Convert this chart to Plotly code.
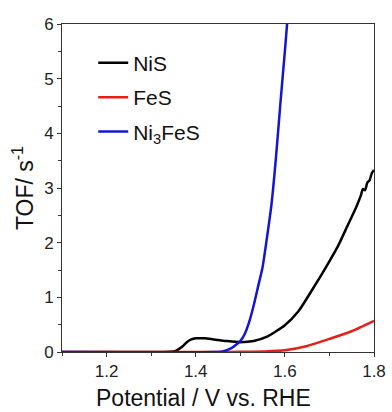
import plotly.graph_objects as go

# Potential (V vs. RHE) and turnover frequency (s^-1) for each catalyst
potential_nis = [1.10, 1.30, 1.34, 1.355, 1.37, 1.38, 1.39, 1.40, 1.42, 1.44, 1.47, 1.50,
                 1.53, 1.56, 1.60, 1.63, 1.66, 1.69, 1.72, 1.74, 1.76, 1.77, 1.775,
                 1.78, 1.785, 1.79, 1.795, 1.80]
tof_nis = [0.0, 0.0, 0.005, 0.02, 0.1, 0.18, 0.23, 0.25, 0.25, 0.23, 0.2, 0.18,
           0.2, 0.28, 0.49, 0.74, 1.12, 1.52, 1.95, 2.3, 2.65, 2.85, 2.98,
           2.96, 3.1, 3.14, 3.27, 3.33]

potential_fes = [1.10, 1.45, 1.50, 1.55, 1.60, 1.65, 1.70, 1.75, 1.80]
tof_fes = [0.0, 0.0, 0.003, 0.01, 0.03, 0.11, 0.24, 0.38, 0.57]

potential_ni3fes = [1.10, 1.44, 1.46, 1.48, 1.49, 1.50, 1.51, 1.52, 1.53, 1.54,
                    1.55, 1.56, 1.57, 1.58, 1.59, 1.60, 1.61]
tof_ni3fes = [0.0, 0.0, 0.01, 0.07, 0.13, 0.2, 0.33, 0.55, 0.85, 1.2,
              1.55, 2.1, 2.7, 3.55, 4.55, 5.5, 6.5]

x_ticks = [1.2, 1.4, 1.6, 1.8]
y_ticks = [0, 1, 2, 3, 4, 5, 6]

font_family = "Liberation Sans, Arial, sans-serif"

fig = go.Figure()
series = [
    ("NiS", potential_nis, tof_nis, "#000000"),
    ("FeS", potential_fes, tof_fes, "#e3201c"),
    ("Ni<sub>3</sub>FeS", potential_ni3fes, tof_ni3fes, "#1414d4"),
]
for name, x, y, color in series:
    fig.add_trace(go.Scatter(
        x=x, y=y, name=name, mode="lines", legendgroup=name,
        line=dict(color=color, width=2.5, shape="spline", smoothing=0.6),
    ))

axis_common = dict(
    showline=True, linecolor="#333333", linewidth=1, mirror=True,
    ticks="outside", ticklen=4, tickwidth=1, tickcolor="#333333",
    showgrid=False, zeroline=False, automargin=False,
    tickfont=dict(family=font_family, size=17, color="#222222"),
)

fig.update_layout(
    width=392, height=412,
    margin=dict(l=62, r=18, t=24, b=60),
    paper_bgcolor="white", plot_bgcolor="white",
    font=dict(family=font_family, color="#111111"),
    xaxis=dict(
        range=[1.1, 1.8], tickvals=x_ticks,
        minor=dict(dtick=0.1, tick0=1.1, ticks="outside", ticklen=3, tickcolor="#333333"),
        **axis_common,
    ),
    yaxis=dict(
        range=[0, 6], tickvals=y_ticks,
        minor=dict(dtick=0.5, tick0=0, ticks="outside", ticklen=3, tickcolor="#333333"),
        title=dict(text="TOF/ s<sup>-1</sup>", font=dict(size=23, family=font_family), standoff=4),
        **axis_common,
    ),
    legend=dict(
        x=0.1, y=0.943, xanchor="left", yanchor="top",
        bgcolor="rgba(0,0,0,0)", borderwidth=0,
        font=dict(family=font_family, size=21, color="#111111"),
        tracegroupgap=4, itemwidth=30,
    ),
    showlegend=True,
    annotations=[dict(
        text="Potential / V vs. RHE", xref="paper", yref="paper",
        x=0.455, y=-0.14, xanchor="center", yanchor="middle", showarrow=False,
        font=dict(size=23, family=font_family, color="#111111"),
    )],
)

fig.write_html("out.html")
